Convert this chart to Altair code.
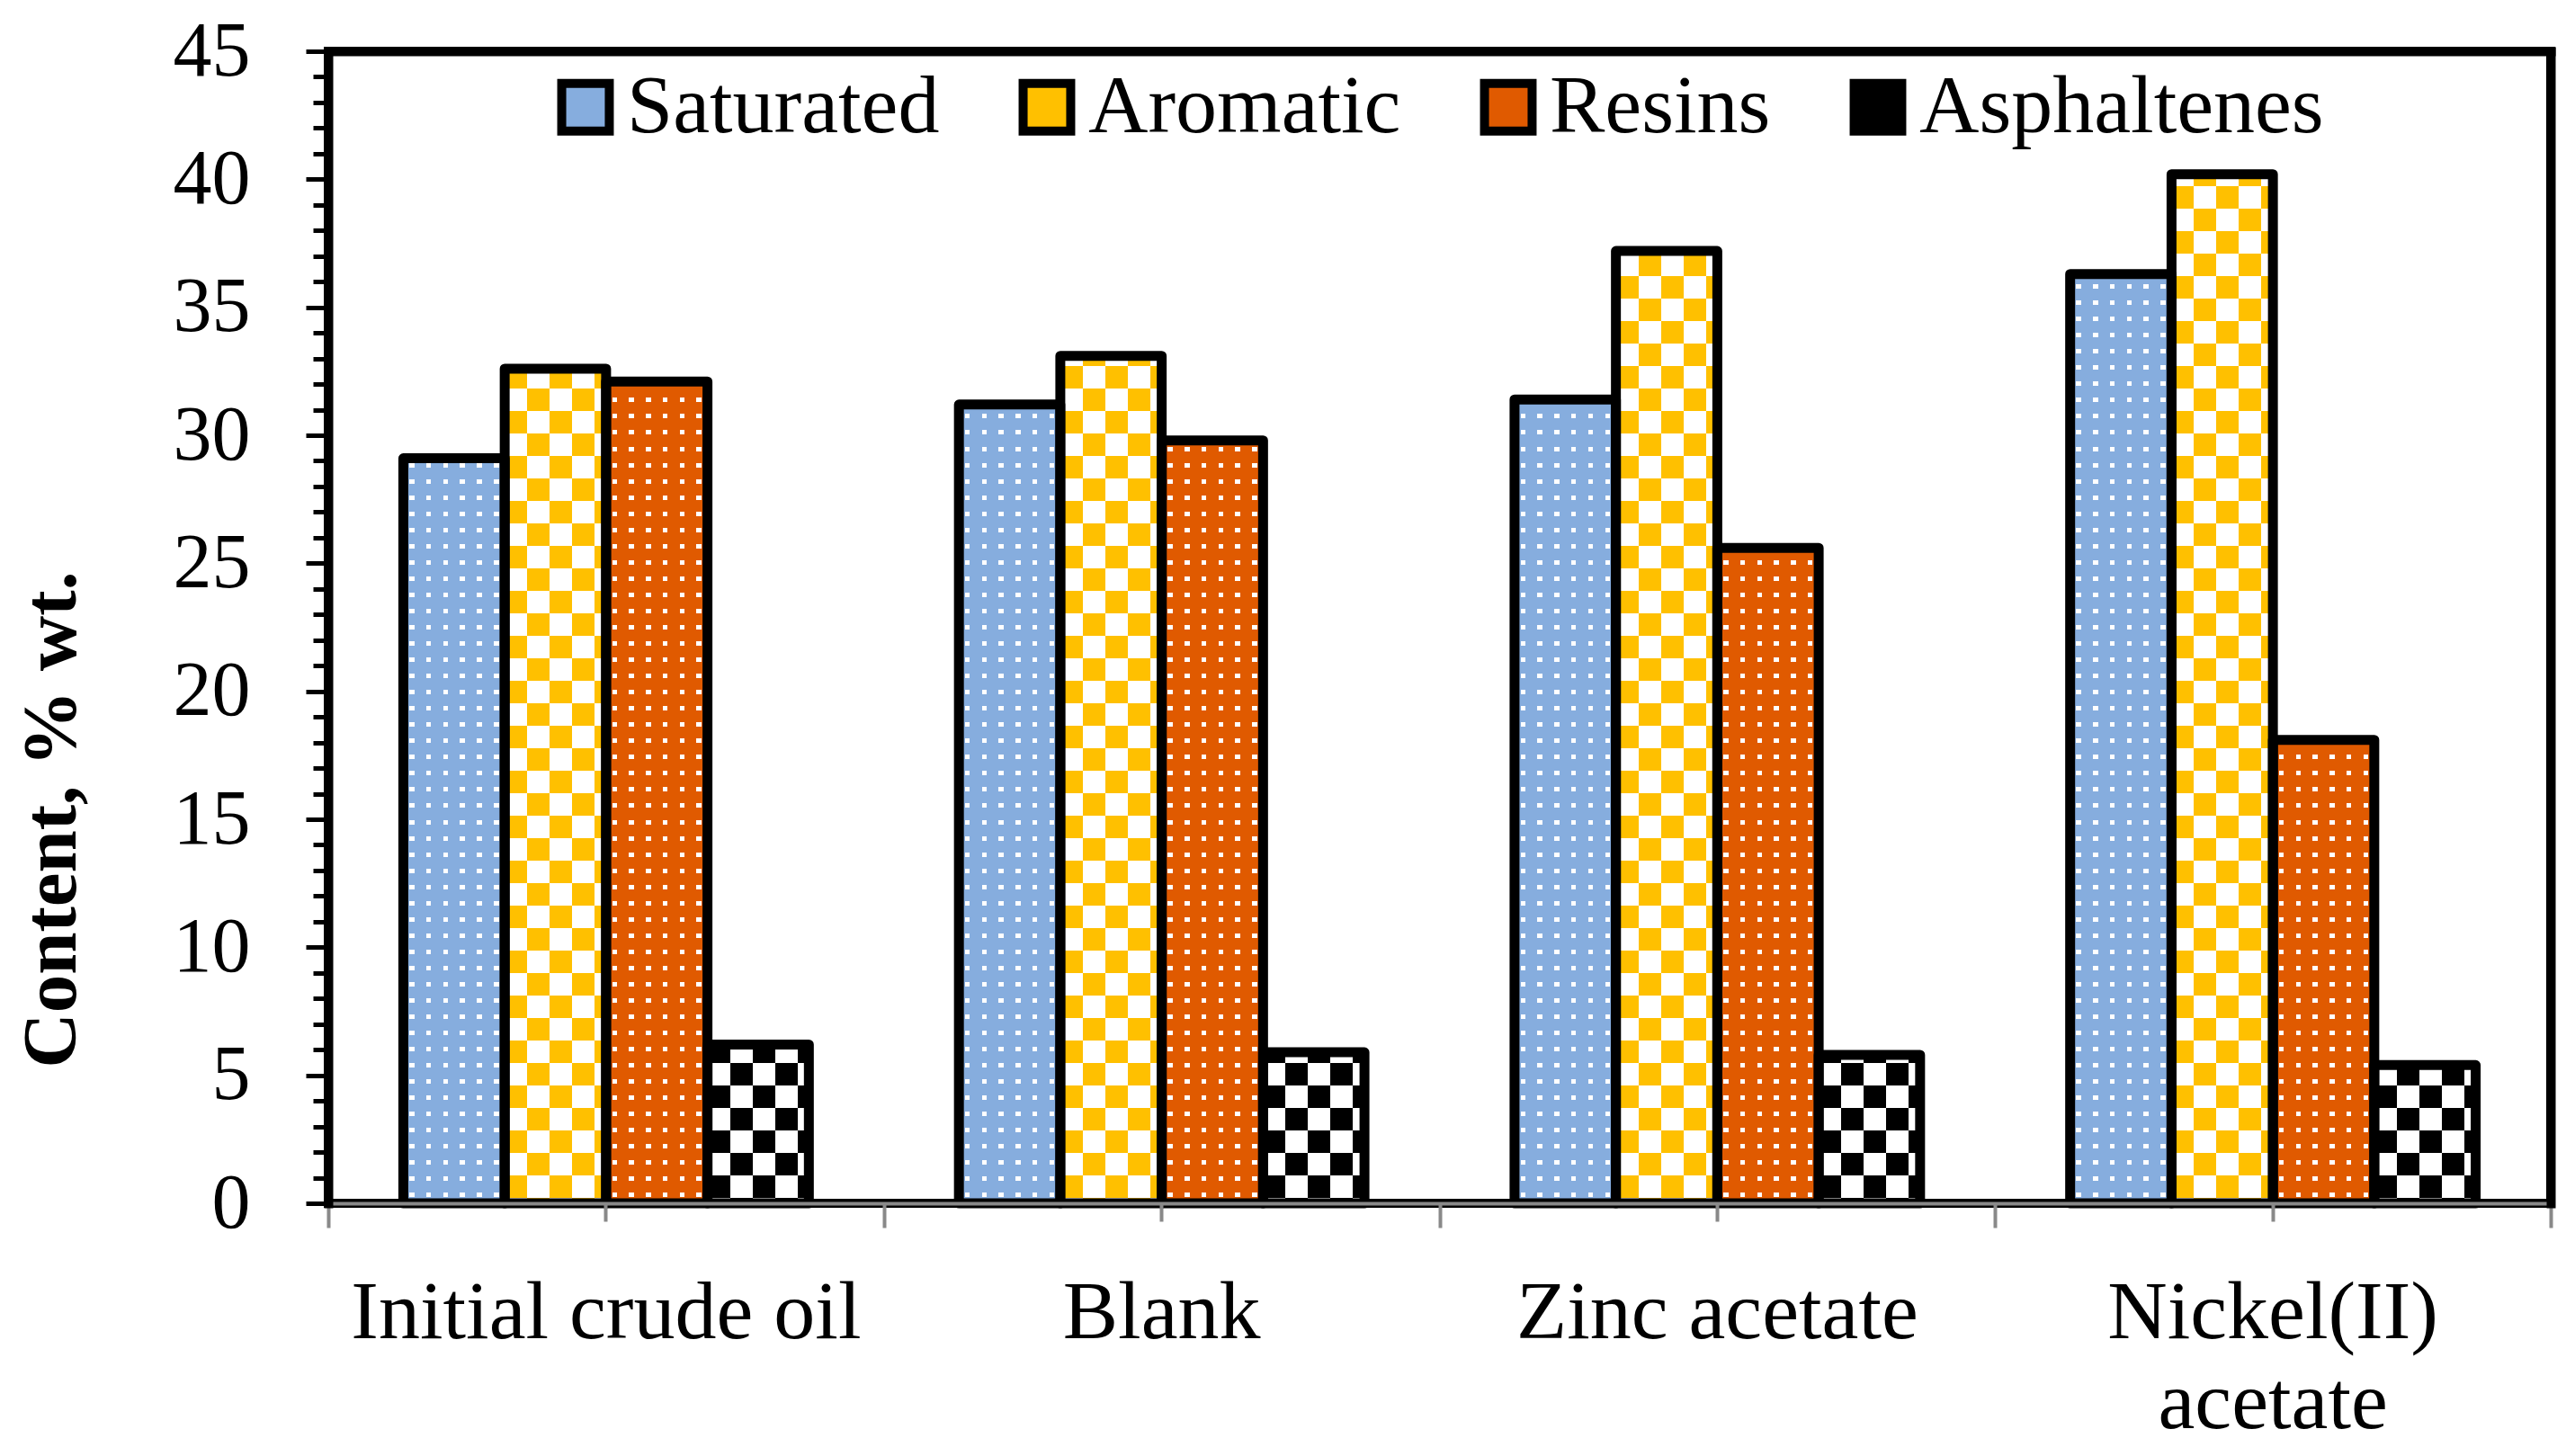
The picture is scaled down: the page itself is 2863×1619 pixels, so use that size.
import altair as alt
import pandas as pd

# ---- data ----
categories = ["Initial crude oil", "Blank", "Zinc acetate", "Nickel(II) acetate"]
series = ["Saturated", "Aromatic", "Resins", "Asphaltenes"]
saturated = [29.1, 31.2, 31.4, 36.3]
aromatic = [32.6, 33.1, 37.2, 40.2]
resins = [32.1, 29.8, 25.6, 18.1]
asphaltenes = [6.2, 5.9, 5.8, 5.4]
colors = ["#86ADDE", "#FFC000", "#E05A00", "#000000"]
y_ticks = list(range(0, 46))

values = {"Saturated": saturated, "Aromatic": aromatic, "Resins": resins, "Asphaltenes": asphaltenes}
rows = []
for s in series:
    for c, v in zip(categories, values[s]):
        rows.append({"category": c, "series": s, "value": v})
df = pd.DataFrame(rows)

# ---- sizes / styles ----
W, H = 2471, 1281
FONT = "Liberation Serif"
GRAY = "#898989"
BAR_W = W / 4 / 5.48  # px width of one bar (for pattern pitch)


def stripes(intervals):
    """black background with white stripes at the given [a, b] fractions"""
    stops = [{"offset": 0, "color": "black"}]
    for a, b in intervals:
        a = max(0.0, min(1.0, a)); b = max(0.0, min(1.0, b))
        stops += [{"offset": a, "color": "black"}, {"offset": a, "color": "white"},
                  {"offset": b, "color": "white"}, {"offset": b, "color": "black"}]
    stops.append({"offset": 1, "color": "black"})
    return stops


def grad(stops, vertical):
    return {"gradient": "linear", "x1": 0, "y1": 0, "x2": 0 if vertical else 1, "y2": 1 if vertical else 0,
            "stops": stops}


# dotted pattern (Saturated / Resins)
nx = 6
dot_w = 5.5 / BAR_W
dots_x = grad(stripes([((i + 0.5) / nx - dot_w / 2, (i + 0.5) / nx + dot_w / 2) for i in range(nx)]), False)
ny = int(H / 18)
dot_h = 5.0 / H
dots_y = grad(stripes([((j + 0.5) / ny - dot_h / 2, (j + 0.5) / ny + dot_h / 2) for j in range(ny)]), True)

# checker pattern (Aromatic / Asphaltenes)
cw = 25.0 / BAR_W
chk_x = grad(stripes([(k * cw, (k + 1) * cw) for k in range(0, 6, 2)]), False)
chh = 25.0 / H
nch = int(1 / chh) + 2
chk_y = grad(stripes([(k * chh, (k + 1) * chh) for k in range(0, nch, 2)]), True)

xscale = alt.Scale(domain=categories, paddingInner=0, paddingOuter=0)
yscale = alt.Scale(domain=[0, 45], nice=False, zero=True)
xo = alt.XOffset("series:N", scale=alt.Scale(domain=series, paddingInner=0, paddingOuter=0.74))
x_plain = alt.X("category:N", scale=xscale, axis=None)
y_full = alt.YDatum(45, type="quantitative", scale=yscale, axis=None)

frame_axis = dict(domain=True, domainColor="black", domainWidth=10, domainCap="square",
                  ticks=False, labels=False, grid=False, title=None, zindex=2)

base = alt.Chart(df)
dot_series = ["Saturated", "Resins"]
chk_series = ["Aromatic", "Asphaltenes"]


def pattern_layer(sel, fill, blend=None, x=x_plain, y=y_full):
    kw = {"fill": fill, "strokeWidth": 0}
    if blend:
        kw["blend"] = blend
    return base.transform_filter(alt.FieldOneOfPredicate(field="series", oneOf=sel)).mark_bar(**kw).encode(
        x=x, xOffset=xo, y=y)


# top frame line drawn as a top x-axis domain, right frame line as a right y-axis domain
l1d = pattern_layer(dot_series, dots_x,
                    x=alt.X("category:N", scale=xscale, axis=alt.Axis(orient="top", **frame_axis)))
l2d = pattern_layer(dot_series, dots_y, "darken",
                    y=alt.YDatum(45, type="quantitative", scale=yscale,
                                 axis=alt.Axis(orient="right", **frame_axis)))
l1c = pattern_layer(chk_series, chk_x)
l2c = pattern_layer(chk_series, chk_y, "difference")

legend = alt.Legend(
    title=None, orient="none", legendX=240, legendY=16, direction="horizontal", columns=4,
    symbolType="square", symbolSize=2800, symbolStrokeColor="black", symbolStrokeWidth=10,
    symbolOpacity=1, labelFont=FONT, labelFontSize=92, labelColor="black", labelOffset=0,
    columnPadding=72, labelLimit=1000, padding=0,
)
l3 = base.mark_bar(blend="lighten", strokeWidth=0).encode(
    x=x_plain, xOffset=xo, y=y_full,
    color=alt.Color("series:N", scale=alt.Scale(domain=series, range=colors), legend=legend),
)

# white cover above each bar (hides the pattern above the value)
cover = base.mark_bar(fill="white", stroke="white", strokeWidth=2).encode(
    x=alt.X("category:N", scale=xscale, axis=alt.Axis(
        orient="bottom", tickBand="extent", labels=False, domain=False, grid=False,
        tickSize=27, tickWidth=4, tickColor=GRAY, title=None, zindex=1)),
    xOffset=xo,
    y=alt.Y("value:Q", scale=yscale, axis=None),
    y2=alt.Y2Datum(45),
)

outline = base.mark_bar(fill="white", fillOpacity=0, stroke="black", strokeWidth=11, strokeJoin="round").encode(
    x=alt.X("category:N", scale=xscale, axis=alt.Axis(
        orient="bottom", labelAngle=0, labelFont=FONT, labelFontSize=92, labelColor="black",
        labelPadding=56, labelLineHeight=100, labelLimit=1000,
        labelExpr="datum.label == 'Nickel(II) acetate' ? ['Nickel(II)', 'acetate'] : datum.label",
        tickSize=20, tickWidth=4, tickColor=GRAY, domainColor=GRAY, domainWidth=4,
        grid=False, title=None, zindex=1)),
    xOffset=xo,
    y=alt.Y("value:Q", scale=yscale, axis=alt.Axis(
        orient="left", values=y_ticks, grid=False,
        domain=True, domainColor="black", domainWidth=10, domainCap="square",
        tickSize={"condition": {"test": "datum.value % 5 === 0", "value": 25}, "value": 17},
        tickWidth=5, tickColor="black",
        labelExpr="datum.value % 5 === 0 ? datum.label : ''",
        labelFont=FONT, labelFontSize=86, labelColor="black", labelPadding=62,
        title="Content, % wt.", titleFont=FONT, titleFontSize=85, titleFontWeight="bold",
        titleColor="black", titleAngle=270, titleX=-282, titleY=854, titleAlign="center",
        titleBaseline="alphabetic", zindex=2)),
)

chart = alt.layer(l1d, l2d, l1c, l2c, l3, cover, outline).resolve_axis(
    x="independent", y="independent"
).properties(
    width=W, height=H,
    autosize=alt.AutoSizeParams(type="none"),
    padding={"left": 357, "top": 49, "right": 19, "bottom": 273},
    background="white",
).configure_view(stroke="black", strokeWidth=10)

chart.save("out.html", embed_options={"renderer": "svg", "actions": False})
